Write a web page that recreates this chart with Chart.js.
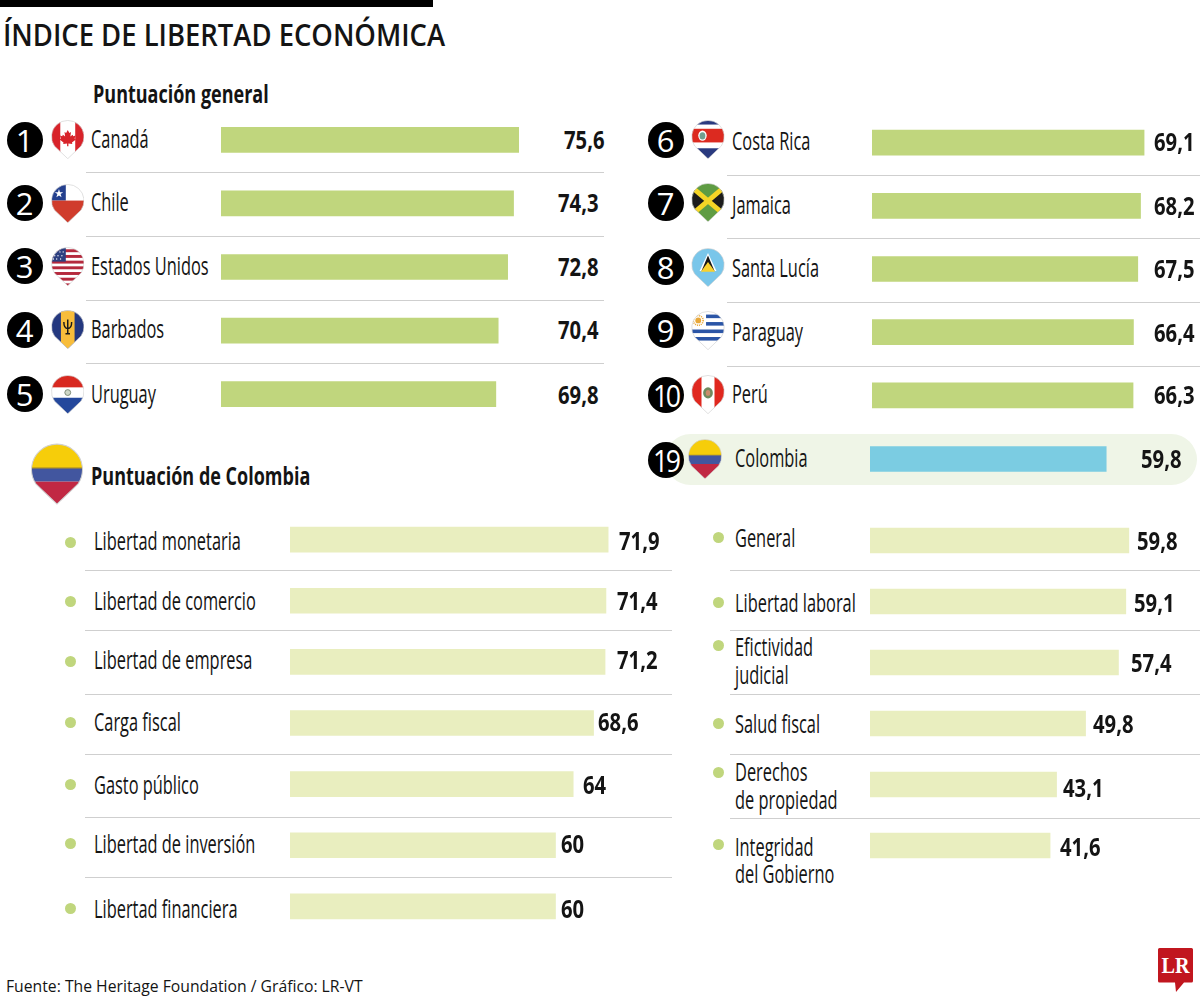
<!DOCTYPE html>
<html lang="es">
<head>
<meta charset="utf-8">
<title>Índice de Libertad Económica</title>
<script src="https://cdn.jsdelivr.net/npm/chart.js@4"></script>
<style>
  html, body { margin: 0; padding: 0; background: #fff; }
  #page { position: relative; width: 1200px; height: 1001px; overflow: hidden; background: #fff; font-family: "Open Sans", sans-serif; color: #141414; }
  #page > * { position: absolute; }
  .t { white-space: nowrap; line-height: 1; transform-origin: left center; }
  .rule { height: 1px; background: #cfcfcf; }
  .dot { border-radius: 50%; background: #c0d67d; }
  .num { width: 36px; height: 36px; border-radius: 50%; background: #000; color: #fff; display: flex; align-items: center; justify-content: center; font-weight: 400; font-size: 31px; }
  .num span { display: inline-block; }
</style>
</head>
<body>
<div id="page"></div>
<script>
// Ranking general: puestos 1 a 5
const rankLeftCountries = ["Canadá", "Chile", "Estados Unidos", "Barbados", "Uruguay"];
const rankLeftValues = [75.6, 74.3, 72.8, 70.4, 69.8];
// Ranking general: puestos 6 a 10
const rankRightCountries = ["Costa Rica", "Jamaica", "Santa Lucía", "Paraguay", "Perú"];
const rankRightValues = [69.1, 68.2, 67.5, 66.4, 66.3];
// Colombia en el ranking general
const colombiaCountry = ["Colombia"];
const colombiaValue = [59.8];
// Desglose de la puntuación de Colombia
const pillarsLeft = ["Libertad monetaria", "Libertad de comercio", "Libertad de empresa", "Carga fiscal", "Gasto público", "Libertad de inversión", "Libertad financiera"];
const pillarsLeftValues = [71.9, 71.4, 71.2, 68.6, 64, 60, 60];
const pillarsRight = ["General", "Libertad laboral", ["Efictividad", "judicial"], "Salud fiscal", ["Derechos", "de propiedad"], ["Integridad", "del Gobierno"]];
const pillarsRightValues = [59.8, 59.1, 57.4, 49.8, 43.1, 41.6];

const page = document.getElementById("page");
const GREEN = "#c0d67d", BLUE = "#7bcce2", PALE = "#e9eebf";
const LABEL_SIZE = 25, LABEL_K = 0.655;
const VALUE_SIZE = 25, VALUE_K = 0.81;

function addText(str, x, y, size, weight, k) {
  const el = document.createElement("div");
  el.className = "t";
  el.textContent = str;
  el.style.cssText = `left:${x}px;top:${y}px;font-size:${size}px;font-weight:${weight};transform:translateY(-50%) scaleX(${k});`;
  page.appendChild(el);
}
function addBox(cls, x, y, w, h, extra) {
  const el = document.createElement("div");
  el.className = cls;
  el.style.cssText = `left:${x}px;top:${y}px;width:${w}px;height:${h}px;${extra || ""}`;
  page.appendChild(el);
  return el;
}
const comma = v => String(v).replace(".", ",");

// Barras horizontales sin ejes visibles; el eje x arranca en cero
function barChart(left, top, width, height, labels, values, color, axisMax) {
  const canvas = document.createElement("canvas");
  canvas.style.cssText = `left:${left}px;top:${top}px;width:${width}px;height:${height}px;`;
  page.appendChild(canvas);
  new Chart(canvas, {
    type: "bar",
    data: { labels, datasets: [{ data: values, backgroundColor: color, barThickness: 25, borderWidth: 0 }] },
    options: {
      indexAxis: "y", responsive: false, animation: false, devicePixelRatio: 1,
      layout: { padding: 0 },
      plugins: { legend: { display: false }, tooltip: { enabled: false } },
      scales: {
        x: { display: false, min: 0, max: axisMax },
        y: { display: false }
      }
    }
  });
}

// Marcador en forma de gota con la bandera recortada dentro
const flags = {
  ca: `<rect width="100" height="118" fill="#fff"/><rect width="27" height="118" fill="#d8232a"/><rect x="73" width="27" height="118" fill="#d8232a"/><polygon fill="#d8232a" points="50,30 55,39 60,36 58,50 65,44 67,49 74,47 71,56 75,59 63,68 64,73 52,71 52,80 48,80 48,71 36,73 37,68 25,59 29,56 26,47 33,49 35,44 42,50 40,36 45,39"/>`,
  cl: `<rect width="100" height="50" fill="#fff"/><rect width="44" height="50" fill="#24408e"/><rect y="50" width="100" height="68" fill="#d03c2c"/><polygon fill="#fff" points="23,14 26,24 36,24 28,30 31,40 23,34 15,40 18,30 10,24 20,24"/>`,
  us: `<rect width="100" height="118" fill="#fff"/>` + [0, 1, 2, 3, 4, 5, 6].map(i => `<rect y="${6 + i * 17.5}" width="100" height="9" fill="#b5293d"/>`).join("") + `<rect width="44" height="44" fill="#2d3f80"/><g fill="#fff"><circle cx="14" cy="14" r="2"/><circle cx="26" cy="14" r="2"/><circle cx="36" cy="14" r="2"/><circle cx="10" cy="26" r="2"/><circle cx="20" cy="26" r="2"/><circle cx="32" cy="26" r="2"/><circle cx="6" cy="36" r="2"/><circle cx="16" cy="36" r="2"/><circle cx="28" cy="36" r="2"/></g>`,
  bb: `<rect width="100" height="118" fill="#24387f"/><rect x="29" width="42" height="118" fill="#f8bd3b"/><path d="M50,28V72M38,36C38,54 44,56 50,56C56,56 62,54 62,36M43,72H57" fill="none" stroke="#1a1a1a" stroke-width="4.5"/>`,
  py: `<rect width="100" height="118" fill="#fff"/><rect width="100" height="37" fill="#d8281f"/><rect y="69" width="100" height="49" fill="#24489c"/><circle cx="50" cy="53" r="9" fill="#cfd8c8" stroke="#7c8a76" stroke-width="3"/>`,
  cr: `<rect width="100" height="118" fill="#fff"/><rect width="100" height="13" fill="#2a3a7f"/><rect y="26" width="100" height="42" fill="#dc2a20"/><rect y="86" width="100" height="32" fill="#2a3a7f"/><ellipse cx="33" cy="47" rx="13" ry="16" fill="#fff"/><ellipse cx="33" cy="48" rx="9" ry="11" fill="#6f9f90"/>`,
  jm: `<rect width="100" height="118" fill="#5f9c43"/><polygon points="0,8 44,54 0,100" fill="#1c1c1c"/><polygon points="100,8 56,54 100,100" fill="#1c1c1c"/><path d="M0,12L100,96M100,12L0,96" stroke="#f5d526" stroke-width="15"/>`,
  lc: `<rect width="100" height="118" fill="#79c6ea"/><polygon points="50,14 24,70 76,70" fill="#fff"/><polygon points="50,22 30,70 70,70" fill="#161616"/><polygon points="50,42 28,72 72,72" fill="#f8d12e"/>`,
  uy: `<rect width="100" height="118" fill="#fff"/><rect x="44" y="10" width="56" height="11" fill="#2b55a6"/><rect x="44" y="33" width="56" height="11" fill="#2b55a6"/><rect y="56" width="100" height="11" fill="#2b55a6"/><rect y="79" width="100" height="11" fill="#2b55a6"/><circle cx="20" cy="28" r="9" fill="#e8a83a"/><circle cx="20" cy="28" r="15" fill="none" stroke="#e8a83a" stroke-width="5" stroke-dasharray="3 3"/>`,
  pe: `<rect width="100" height="118" fill="#fff"/><rect width="30" height="118" fill="#e0281f"/><rect x="70" width="30" height="118" fill="#e0281f"/><ellipse cx="50" cy="54" rx="15" ry="17" fill="#6f8a5e"/><ellipse cx="50" cy="54" rx="7" ry="9" fill="#c98d6b"/>`,
  co: `<rect width="100" height="48" fill="#f6cd0a"/><rect y="48" width="100" height="26" fill="#42569f"/><rect y="74" width="100" height="44" fill="#c12843"/><rect y="46.5" width="100" height="2" fill="#7a6a3a"/>`
};
const PIN = "M50,118L9,79A50,50 0 1 1 91,79Z";
let pinId = 0;
function addPin(code, x, y, w, h) {
  const id = "pin" + (pinId++);
  const svg = document.createElementNS("http://www.w3.org/2000/svg", "svg");
  svg.setAttribute("viewBox", "-1 -1 102 120");
  svg.style.cssText = `left:${x}px;top:${y}px;width:${w}px;height:${h}px;`;
  svg.innerHTML = `<clipPath id="${id}"><path d="${PIN}"/></clipPath><g clip-path="url(#${id})">${flags[code]}</g><path d="${PIN}" fill="none" stroke="#d0d0d0" stroke-width="2"/>`;
  page.appendChild(svg);
}
function addRank(n, cx, cy) {
  const el = addBox("num", cx - 18, cy - 18, 36, 36);
  const s = document.createElement("span");
  s.textContent = n;
  if (n > 9) s.style.cssText = "transform:scaleX(.86);letter-spacing:-3px;";
  el.appendChild(s);
}

/* Cabecera */
addBox("", 0, 0, 433, 7, "background:#000;");
addText("ÍNDICE DE LIBERTAD ECONÓMICA", 3, 35, 30, 600, 0.914);
addText("Puntuación general", 93, 93, 25, 700, 0.72);

/* Resalte de Colombia */
addBox("", 665, 434, 532, 51, "background:#eff5e7;border-radius:26px;");

/* Filas del ranking */
barChart(221, 108, 315, 318, rankLeftCountries, rankLeftValues, GREEN, 80);
barChart(872, 111, 315, 316, rankRightCountries, rankRightValues, GREEN, 80);
barChart(870, 434, 316, 50, colombiaCountry, colombiaValue, BLUE, 80);

const rankLeftRows = [
  { n: 1, cy: 140, flag: "ca", top: 120, ty: 138, vx: 564, vy: 139 },
  { n: 2, cy: 203, flag: "cl", top: 184, ty: 201, vx: 558, vy: 202 },
  { n: 3, cy: 266, flag: "us", top: 247, ty: 265, vx: 558, vy: 266 },
  { n: 4, cy: 330, flag: "bb", top: 310, ty: 328, vx: 558, vy: 329 },
  { n: 5, cy: 394, flag: "py", top: 375, ty: 393, vx: 558, vy: 394 }
];
rankLeftRows.forEach((r, i) => {
  addRank(r.n, 24.5, r.cy);
  addPin(r.flag, 50.5, r.top, 33.5, 39);
  addText(rankLeftCountries[i], 91, r.ty, LABEL_SIZE, 400, LABEL_K);
  addText(comma(rankLeftValues[i]), r.vx, r.vy, VALUE_SIZE, 700, VALUE_K);
});
const rankRightRows = [
  { n: 6, cy: 140, flag: "cr", top: 120, ty: 140 },
  { n: 7, cy: 202.5, flag: "jm", top: 183, ty: 204 },
  { n: 8, cy: 266.5, flag: "lc", top: 248, ty: 267 },
  { n: 9, cy: 329.5, flag: "uy", top: 311, ty: 331 },
  { n: 10, cy: 394.5, flag: "pe", top: 375, ty: 393 }
];
rankRightRows.forEach((r, i) => {
  addRank(r.n, 665.5, r.cy);
  addPin(r.flag, 690.5, r.top, 34, 39);
  addText(rankRightCountries[i], 732, r.ty, LABEL_SIZE, 400, LABEL_K);
  addText(comma(rankRightValues[i]), 1154, r.ty + 1, VALUE_SIZE, 700, VALUE_K);
});
addRank(19, 665.5, 459.5);
addPin("co", 688, 439, 34, 40);
addText(colombiaCountry[0], 735, 457, LABEL_SIZE, 400, LABEL_K);
addText(comma(colombiaValue[0]), 1141, 458, VALUE_SIZE, 700, VALUE_K);

[171.5, 235.5, 299.5, 363].forEach(y => addBox("rule", 86, y, 518, 1));
[174.5, 238, 302, 366].forEach(y => addBox("rule", 727, y, 473, 1));

/* Puntuación de Colombia */
addPin("co", 31, 443, 52, 62);
addText("Puntuación de Colombia", 91, 475, 25, 700, 0.72);

barChart(290, 509, 354, 428, pillarsLeft, pillarsLeftValues, PALE, 80);
barChart(870, 510, 303, 366, pillarsRight, pillarsRightValues, PALE, 70);

const pillarsLeftRows = [
  { dot: 542, ty: 540, vx: 619, vy: 540 },
  { dot: 601, ty: 600, vx: 617, vy: 600 },
  { dot: 661, ty: 659, vx: 617, vy: 659 },
  { dot: 722, ty: 721, vx: 598, vy: 721 },
  { dot: 784, ty: 784, vx: 583, vy: 784 },
  { dot: 843, ty: 843, vx: 561, vy: 843 },
  { dot: 908, ty: 908, vx: 561, vy: 908 }
];
pillarsLeftRows.forEach((r, i) => {
  addBox("dot", 64.5, r.dot - 5.5, 11, 11);
  addText(pillarsLeft[i], 93.5, r.ty, LABEL_SIZE, 400, LABEL_K);
  addText(comma(pillarsLeftValues[i]), r.vx, r.vy, VALUE_SIZE, 700, VALUE_K);
});
const pillarsRightRows = [
  { dot: 537, ty: [537], vx: 1137, vy: 540 },
  { dot: 602, ty: [602], vx: 1134, vy: 602 },
  { dot: 645.5, ty: [646, 674], vx: 1131, vy: 662 },
  { dot: 723, ty: [723], vx: 1093, vy: 723 },
  { dot: 772, ty: [771, 799], vx: 1063, vy: 787 },
  { dot: 844, ty: [846, 873], vx: 1060, vy: 846 }
];
pillarsRightRows.forEach((r, i) => {
  addBox("dot", 712.5, r.dot - 5.5, 11, 11);
  [].concat(pillarsRight[i]).forEach((line, j) => addText(line, 735, r.ty[j], LABEL_SIZE, 400, LABEL_K));
  addText(comma(pillarsRightValues[i]), r.vx, r.vy, VALUE_SIZE, 700, VALUE_K);
});

[570, 630, 694, 754, 817, 877].forEach(y => addBox("rule", 85, y, 587, 1));
[570, 630, 693.5, 754, 817.5].forEach(y => addBox("rule", 730, y, 470, 1));

/* Pie */
addText("Fuente: The Heritage Foundation / Gráfico: LR-VT", 6, 985, 17, 400, 0.925);

const logo = document.createElementNS("http://www.w3.org/2000/svg", "svg");
logo.setAttribute("viewBox", "0 0 36 45");
logo.style.cssText = "left:1158px;top:948px;width:36px;height:45px;";
logo.innerHTML = `<path d="M1.5,0H33.5A1.5,1.5 0 0 1 35,1.5V33A1.5,1.5 0 0 1 33.5,34.5H26L18,44L17,34.5H1.5A1.5,1.5 0 0 1 0,33V1.5A1.5,1.5 0 0 1 1.5,0Z" fill="#c1161f"/><text x="17.5" y="25" text-anchor="middle" font-family="Liberation Serif" font-weight="700" font-size="24" fill="#fff" textLength="28" lengthAdjust="spacingAndGlyphs">LR</text>`;
page.appendChild(logo);
</script>
</body>
</html>
